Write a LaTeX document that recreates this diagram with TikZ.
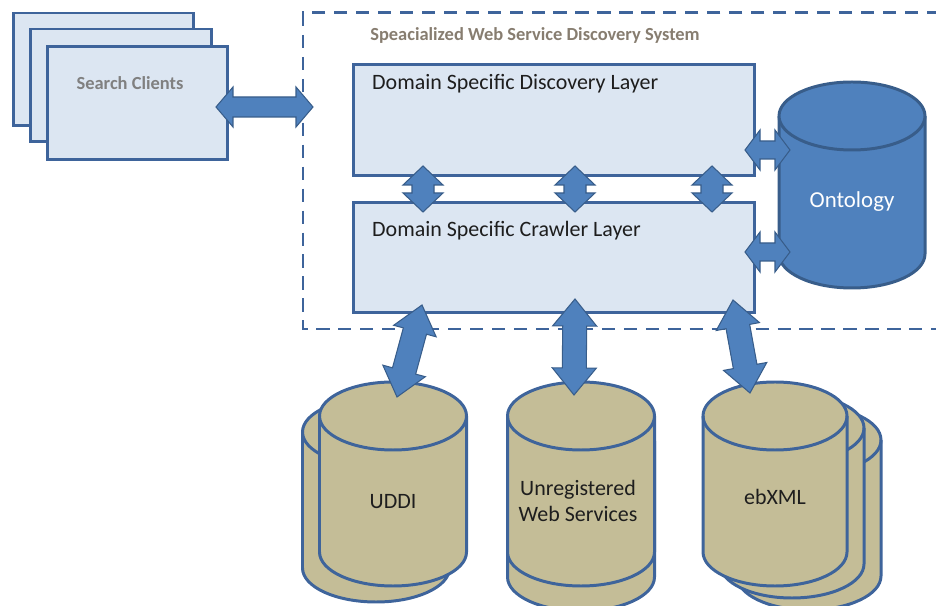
\documentclass[tikz,border=0pt]{standalone}
\usepackage{fontspec}
\setmainfont{Carlito}
\usetikzlibrary{calc}
\definecolor{boxfill}{RGB}{220,230,242}
\definecolor{boxedge}{RGB}{62,100,155}
\definecolor{arrowblue}{RGB}{79,129,189}
\definecolor{arrowedge}{RGB}{56,93,138}
\definecolor{drumtan}{RGB}{196,189,151}
\definecolor{titlegray}{RGB}{135,125,112}
\definecolor{clientgray}{RGB}{128,128,128}
\definecolor{textdark}{RGB}{30,30,30}

% fat two-headed arrow: from, to, body half width, head half width, head length
\newcommand{\dblarrow}[5]{%
  \filldraw[blockarrow] (#1)
    -- ($(#1)!#5!(#2)!#4!90:(#2)$) -- ($(#1)!#5!(#2)!#3!90:(#2)$)
    -- ($(#2)!#5!(#1)!#3!-90:(#1)$) -- ($(#2)!#5!(#1)!#4!-90:(#1)$)
    -- (#2)
    -- ($(#2)!#5!(#1)!#4!90:(#1)$) -- ($(#2)!#5!(#1)!#3!90:(#1)$)
    -- ($(#1)!#5!(#2)!#3!-90:(#2)$) -- ($(#1)!#5!(#2)!#4!-90:(#2)$)
    -- cycle;}

% upright drum: centre x, centre y, half width, half height
\newcommand{\drum}[5][]{%
  \filldraw[drum,#1] (#2-#4,#3+#5-34) -- (#2-#4,#3-#5+34)
    arc[start angle=180,end angle=360,x radius=#4,y radius=34]
    -- (#2+#4,#3+#5-34)
    arc[start angle=0,end angle=180,x radius=#4,y radius=34] -- cycle;
  \draw[drum,fill=none,#1] (#2-#4,#3+#5-34)
    arc[start angle=180,end angle=360,x radius=#4,y radius=34];}

\begin{document}
\begin{tikzpicture}[x=0.02cm,y=0.02cm,
  client/.style={rectangle,draw=boxedge,fill=boxfill,line width=1.7pt,
                 minimum width=3.62cm,minimum height=2.26cm},
  layer/.style={rectangle,draw=boxedge,fill=boxfill,line width=1.7pt,
                minimum width=8.04cm,minimum height=2.21cm},
  drum/.style={draw=boxedge,fill=drumtan,line width=1.7pt},
  blockarrow/.style={fill=arrowblue,draw=arrowedge,line width=0.6pt,line join=miter},
  lbl/.style={font=\fontsize{12.5}{15.3}\selectfont,text=textdark,align=center}]
\useasboundingbox (0,0) rectangle (936,605);

% discovery system frame, open to the right
\draw[boxedge,line width=1.7pt,dash pattern=on 7.5pt off 5pt]
  (940,592) -- (303,592) -- (303,276) -- (940,276);
\node[font=\fontsize{10.5}{12}\selectfont\bfseries,text=titlegray] (title)
  at (535,570) {Speacialized Web Service Discovery System};

% search clients
\node[client] (cl1) at (103.5,535.5) {};
\node[client] (cl2) at (121,519.5) {};
\node[client] (cl3) at (137.5,502) {};
\node[font=\fontsize{10.5}{12}\selectfont\bfseries,text=clientgray] (cltext)
  at (130,522) {Search Clients};

% the two layers
\node[layer] (disc) at (554,485) {};
\node[layer] (crawl) at (554,347.5) {};
\node[lbl,anchor=west] (disctext) at (366,521) {Domain Specific Discovery Layer};
\node[lbl,anchor=west] (crawltext) at (366,374) {Domain Specific Crawler Layer};

% ontology store
\drum[fill=arrowblue,draw=arrowedge]{852}{420}{73}{103}
\node[font=\fontsize{13}{15}\selectfont,text=white] (onto) at (852,403) {Ontology};

% registries
\drum{376}{105}{73.5}{102}
\drum{393}{121}{73.5}{102}
\drum{581}{96}{73.5}{102}
\drum{581}{121}{73.5}{102}
\drum{809}{97}{72}{102}
\drum{792}{109}{72}{102}
\drum{775}{121}{72}{102}
\node[lbl] (uddi) at (393,103) {UDDI};
\node[lbl] (unreg) at (578,104) {Unregistered\\Web Services};
\node[lbl] (ebxml) at (775,108) {ebXML};

% clients <-> system
\coordinate (cl-r) at (216,498);
\coordinate (sys-l) at (313,498);
\dblarrow{cl-r}{sys-l}{0.2cm}{0.4cm}{0.34cm}

% discovery <-> crawler
\foreach \x [count=\i] in {423,575,712} {
  \coordinate (up\i) at (\x,439);
  \coordinate (dn\i) at (\x,393);
  \dblarrow{up\i}{dn\i}{0.22cm}{0.4cm}{0.38cm}
}

% layers <-> ontology
\coordinate (disc-r) at (745,455);
\coordinate (onto-a) at (790,455);
\coordinate (crawl-r) at (745,353);
\coordinate (onto-b) at (790,353);
\dblarrow{disc-r}{onto-a}{0.18cm}{0.4cm}{0.3cm}
\dblarrow{crawl-r}{onto-b}{0.18cm}{0.4cm}{0.3cm}

% crawler <-> registries
\coordinate (cr1) at (422,300);
\coordinate (uddi-t) at (397,208);
\coordinate (cr2) at (575,306);
\coordinate (unreg-t) at (574,210);
\coordinate (cr3) at (733,305);
\coordinate (ebxml-t) at (750,212);
\dblarrow{cr1}{uddi-t}{0.24cm}{0.44cm}{0.54cm}
\dblarrow{cr2}{unreg-t}{0.24cm}{0.44cm}{0.54cm}
\dblarrow{cr3}{ebxml-t}{0.24cm}{0.44cm}{0.54cm}
\end{tikzpicture}
\end{document}
